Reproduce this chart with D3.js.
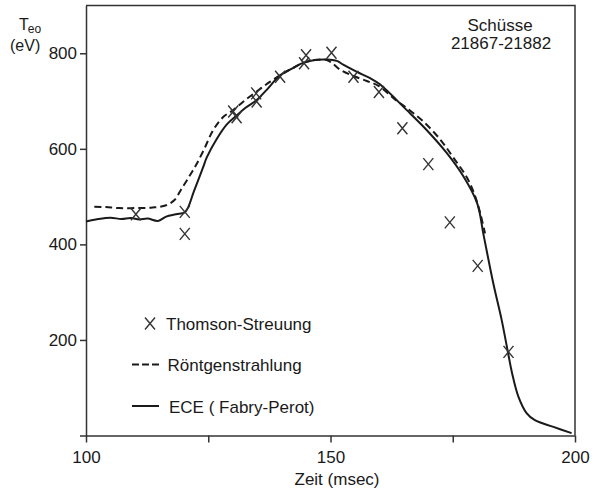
<!DOCTYPE html>
<html>
<head>
<meta charset="utf-8">
<script src="https://cdn.jsdelivr.net/npm/d3@7/dist/d3.min.js"></script>
<style>
  html, body { margin: 0; padding: 0; background: #fff; }
  svg { display: block; }
  text { font-family: "Liberation Sans", Arial, sans-serif; fill: #1a1a1a; }
</style>
</head>
<body>
<svg id="chart" width="600" height="493"></svg>
<script>
// Electron temperature T_eo over time, shots 21867-21882

// ECE (Fabry-Perot) trace
const eceTime = [100, 102, 105, 107.2, 109.2, 110.9, 112.6, 114.7, 116.4, 118.4, 120.3,
  122.1, 123.9, 124.7, 126.7, 128.8, 130.5, 132.5, 134.9, 136.9, 139.7, 142.1, 144.4,
  146.8, 149.2, 151.3, 152.6, 155.4, 158.1, 160.1, 165.6, 169.7, 173.8, 177.2, 180,
  181.3, 183.3, 185, 186.4, 187.1, 188.4, 190.1, 191.8, 195.6, 199.3];
const eceTemp = [448, 452, 456, 453, 455, 452, 454, 449, 458, 463, 468,
  512, 560, 582, 620, 651, 667, 685, 702, 723, 754, 768, 780,
  786, 787, 784, 776, 761, 748, 735, 681, 639, 591, 542, 486,
  420, 318, 242, 168, 132, 82, 47, 32, 18, 5];

// X-ray (Röntgenstrahlung) trace
const xrayTime = [101.7, 104.1, 106.8, 110.2, 113.6, 116.4, 118.1, 119.4, 121.1, 122.5,
  124.1, 126, 128.1, 130.1, 132.2, 134.9, 137.6, 139.7, 142.1, 144.4, 146.8, 149.2,
  150.5, 151.9, 154.3, 157.4, 159.8, 163, 166, 169, 172.4, 175.1, 177.9, 179.5, 180.6, 181.6];
const xrayTemp = [479, 478, 476, 476, 477, 482, 493, 514, 542, 566,
  598, 639, 667, 681, 699, 720, 740, 754, 768, 780, 786, 786,
  778, 766, 754, 742, 732, 705, 682, 657, 620, 582, 540, 503, 466, 423];

// Thomson scattering measurements
const thomsonTime = [110.2, 120.2, 120.2, 130.1, 130.8, 134.8, 134.9, 139.7, 144.6, 145,
  150.2, 154.7, 159.9, 164.7, 170, 174.4, 180.1, 186.4];
const thomsonTemp = [463, 468, 422, 678, 666, 716, 699, 751, 779, 796,
  801, 751, 719, 643, 568, 446, 355, 175];

// Axis ticks
const xTicks = [100, 125, 150, 175, 200];
const xTickLabels = ["100", "", "150", "", "200"];
const yTicks = [0, 200, 400, 600, 800];
const yTickLabels = ["", "200", "400", "600", "800"];

// Legend
const legendLabels = ["Thomson-Streuung", "Röntgenstrahlung", "ECE ( Fabry-Perot)"];
const legendKinds = ["cross", "dashed", "solid"];

const svg = d3.select("#chart");
const ink = "#1a1a1a";

const x = d3.scaleLinear().domain([100, 200]).range([86, 575]);
const y = d3.scaleLinear().domain([0, 900]).range([435.5, 5.5]);

// Frame: top and right borders
svg.append("path")
  .attr("d", `M${x(100)},${y(900)} H${x(200)} V${y(0)}`)
  .attr("fill", "none").attr("stroke", "#333").attr("stroke-width", 1.5);

// X axis
const xAxis = svg.append("g")
  .attr("transform", `translate(0,${y(0)})`)
  .call(d3.axisBottom(x).tickValues(xTicks)
    .tickFormat((d, i) => xTickLabels[i])
    .tickSizeInner(7).tickSizeOuter(0).tickPadding(8));

// Y axis
const yAxis = svg.append("g")
  .attr("transform", `translate(${x(100)},0)`)
  .call(d3.axisLeft(y).tickValues(yTicks)
    .tickFormat((d, i) => yTickLabels[i])
    .tickSizeInner(6).tickSizeOuter(0).tickPadding(3));

[xAxis, yAxis].forEach(g => {
  g.select(".domain").attr("stroke", "#333").attr("stroke-width", 1.5);
  g.selectAll(".tick line").attr("stroke", "#333").attr("stroke-width", 1.5);
  g.selectAll(".tick text")
    .attr("fill", ink)
    .style("font-family", '"Liberation Sans", Arial, sans-serif')
    .style("font-size", "17px");
});

// Axis titles
svg.append("text").attr("x", 337).attr("y", 485)
  .attr("text-anchor", "middle").style("font-size", "17px").text("Zeit (msec)");

const yTitle = svg.append("g");
yTitle.append("text").attr("x", 19).attr("y", 30).style("font-size", "16px")
  .text("T")
  .append("tspan").attr("dy", 3).attr("dx", -1).style("font-size", "12px").text("eo");
yTitle.append("text").attr("x", 10).attr("y", 51).style("font-size", "16px").text("(eV)");

// Shot annotation
svg.append("text").attr("x", 500).attr("y", 31).attr("text-anchor", "middle")
  .style("font-size", "17px").text("Schüsse");
svg.append("text").attr("x", 501).attr("y", 49).attr("text-anchor", "middle")
  .style("font-size", "17px").text("21867-21882");

// Curves
const line = d3.line()
  .x(d => x(d[0])).y(d => y(d[1]))
  .curve(d3.curveCatmullRom.alpha(0.5));

const ecePts = eceTime.map((t, i) => [t, eceTemp[i]]);
const xrayPts = xrayTime.map((t, i) => [t, xrayTemp[i]]);

svg.append("path").datum(xrayPts).attr("d", line)
  .attr("fill", "none").attr("stroke", ink).attr("stroke-width", 2)
  .attr("stroke-dasharray", "7,4");

svg.append("path").datum(ecePts).attr("d", line)
  .attr("fill", "none").attr("stroke", ink).attr("stroke-width", 2);

// Thomson crosses
function cross(sel, cx, cy) {
  const hw = 5, hh = 6;
  sel.append("path")
    .attr("d", `M${cx - hw},${cy - hh}L${cx + hw},${cy + hh}M${cx + hw},${cy - hh}L${cx - hw},${cy + hh}`)
    .attr("stroke", "#333").attr("stroke-width", 1.4).attr("fill", "none");
}
const crosses = svg.append("g");
thomsonTime.forEach((t, i) => cross(crosses, x(t), y(thomsonTemp[i])));

// Legend
const legend = svg.append("g");
const legendY = [323.5, 364.5, 406];
legendKinds.forEach((k, i) => {
  const ly = legendY[i];
  if (k === "cross") {
    cross(legend, 150, ly);
  } else {
    legend.append("line").attr("x1", 132).attr("x2", 159).attr("y1", ly).attr("y2", ly)
      .attr("stroke", ink).attr("stroke-width", 2)
      .attr("stroke-dasharray", k === "dashed" ? "7,3" : null);
  }
  legend.append("text").attr("x", k === "cross" ? 166 : (k === "dashed" ? 167.5 : 169))
    .attr("y", ly + 6.5).style("font-size", "17px").text(legendLabels[i]);
});
</script>
</body>
</html>
